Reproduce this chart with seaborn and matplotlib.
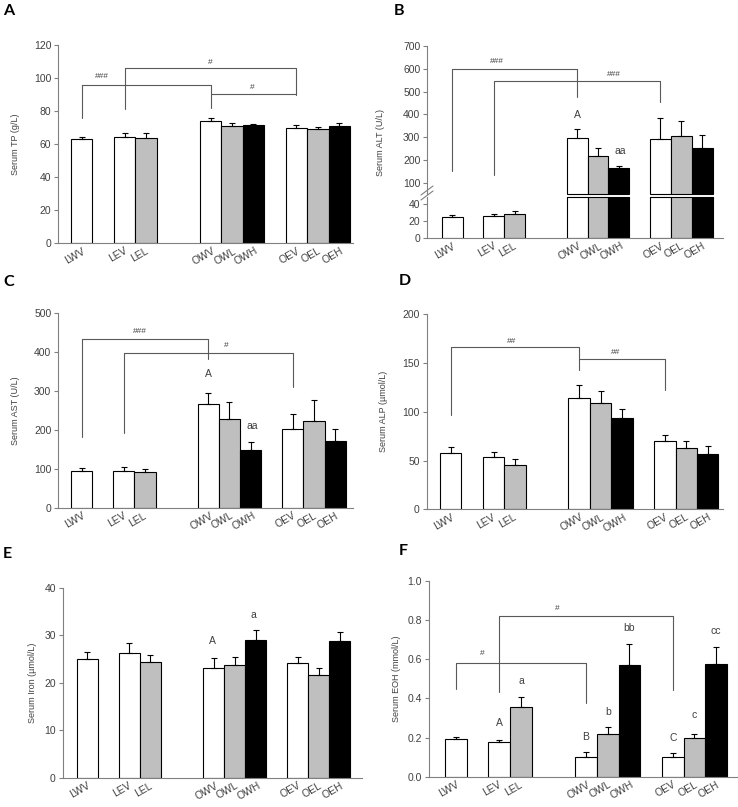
import numpy as np
import pandas as pd
import seaborn as sns
import matplotlib.pyplot as plt
from matplotlib.lines import Line2D
import matplotlib.transforms as mtransforms

# groups along the x axis
groups = ["LWV", "LEV", "LEL", "OWV", "OWL", "OWH", "OEV", "OEL", "OEH"]
doses = ["V", "V", "L", "V", "L", "H", "V", "L", "H"]
slots = [0, 2, 3, 6, 7, 8, 10, 11, 12]

# means and SEM
tp_mean = [63.0, 64.2, 63.7, 74.0, 71.0, 71.6, 69.7, 69.3, 70.7]
tp_sem = [1.2, 2.2, 2.7, 1.8, 2.0, 0.8, 1.6, 0.9, 1.9]
alt_mean = [25.3, 26.5, 28.2, 296, 218, 163, 291, 306, 252]
alt_sem = [2.0, 2.1, 3.2, 38, 33, 9, 95, 65, 59]
ast_mean = [94, 94, 92, 268, 228, 148, 202, 224, 172]
ast_sem = [8, 10, 8, 28, 43, 20, 40, 52, 30]
alp_mean = [58, 54, 45, 114, 109, 94, 70, 62.6, 57]
alp_sem = [5.5, 4.8, 7, 13, 12, 8.5, 6, 7.5, 7.5]
iron_mean = [25.0, 26.2, 24.4, 23.2, 23.7, 29.0, 24.2, 21.7, 28.8]
iron_sem = [1.5, 2.2, 1.5, 1.9, 1.8, 2.0, 1.3, 1.5, 1.9]
eoh_mean = [0.19, 0.175, 0.355, 0.10, 0.218, 0.57, 0.103, 0.197, 0.574]
eoh_sem = [0.015, 0.01, 0.05, 0.025, 0.038, 0.107, 0.02, 0.022, 0.086]

palette = {"V": "white", "L": "#bfbfbf", "H": "black"}
TXT = "#404040"
AX = "#808080"
BR = "#595959"

sns.set_theme(style="ticks")
plt.rcParams["font.family"] = ["Liberation Sans", "DejaVu Sans"]

W, H = 738, 807
fig = plt.figure(figsize=(W / 100, H / 100), dpi=100)


def px_axes(left, top, right, bottom):
    return fig.add_axes([left / W, 1 - bottom / H, (right - left) / W, (bottom - top) / H])


def draw_bars(ax, means, sems):
    df = pd.DataFrame({"slot": slots, "mean": means, "dose": doses})
    sns.barplot(data=df, x="slot", y="mean", hue="dose", palette=palette,
                native_scale=True, dodge=False, width=1, edgecolor="black",
                linewidth=0.8, errorbar=None, legend=False, ax=ax)
    ax.errorbar(slots, means, yerr=[np.zeros(len(sems)), sems], fmt="none",
                ecolor="black", elinewidth=0.8, capsize=2.2, capthick=0.8)


def style(ax, xlim, ylim, yticks, ylabel=None, xlabels=True, fmt="{:g}", pad=4):
    ax.set_xlim(xlim)
    ax.set_ylim(ylim)
    ax.set_yticks(yticks)
    ax.set_yticklabels([fmt.format(t) for t in yticks])
    sns.despine(ax=ax)
    for s in ["left", "bottom"]:
        ax.spines[s].set_color(AX)
        ax.spines[s].set_linewidth(0.8)
    ax.tick_params(axis="y", length=3, width=0.8, color=AX, labelsize=7.5,
                   labelcolor=TXT, pad=2)
    ax.tick_params(axis="x", length=0, labelsize=7.5, labelcolor=TXT, pad=2)
    ax.set_xlabel("")
    ax.set_ylabel(ylabel if ylabel else "", fontsize=6.5, color=TXT, labelpad=pad)
    if xlabels:
        ax.set_xticks(slots)
        ax.set_xticklabels(groups, rotation=30, ha="center")
        shift = mtransforms.ScaledTranslation(-0.07, 0, fig.dpi_scale_trans)
        for lab in ax.get_xticklabels():
            lab.set_transform(lab.get_transform() + shift)
    else:
        ax.set_xticks([])


def bracket(ax, x1, x2, y, y1, y2, text, tx, ty):
    ax.plot([x1, x1, x2, x2], [y1, y, y, y2], color=BR, lw=0.8, clip_on=False)
    ax.text(tx, ty, text, ha="center", va="center", fontsize=6, color=TXT)


def mark(ax, x, y, text):
    ax.text(x, y, text, ha="center", va="center", fontsize=7.5, color=TXT)


# A
ax = px_axes(58.3, 45, 353.3, 243)
draw_bars(ax, tp_mean, tp_sem)
style(ax, (-1.09, 12.65), (0, 120), [0, 20, 40, 60, 80, 100, 120], "Serum TP (g/L)", pad=10)
bracket(ax, 0, 6, 96, 76, 82, "###", 0.93, 101)
bracket(ax, 2, 10, 106, 81, 90, "#", 6, 109.5)
ax.plot([6, 10], [90.3, 90.3], color=BR, lw=0.8)
ax.text(7.95, 94.5, "#", ha="center", va="center", fontsize=6, color=TXT)

# B (broken axis)
axu = px_axes(427.3, 46, 723, 193.8)
axl = px_axes(427.3, 196.6, 723, 238)
draw_bars(axu, alt_mean, alt_sem)
draw_bars(axl, alt_mean, alt_sem)
style(axu, (-1.19, 13.0), (52, 700), [100, 200, 300, 400, 500, 600, 700], xlabels=False)
axu.spines["bottom"].set_visible(False)
style(axl, (-1.19, 13.0), (0, 49), [0, 20, 40])
# bar outlines on both sides of the break
tall = [s for s, m in zip(slots, alt_mean) if m > 52]
for s in tall:
    axu.plot([s - 0.5, s + 0.5], [52, 52], color="black", lw=0.8, clip_on=False)
    axl.plot([s - 0.5, s + 0.5], [49, 49], color="black", lw=0.8, clip_on=False)
fig.text(427.3 / W - 0.063, 1 - 142 / H, "Serum ALT (U/L)", rotation=90, ha="center",
         va="center", fontsize=6.5, color=TXT)
for dy in (0, 5):
    fig.add_artist(Line2D([421 / W, 433 / W], [1 - (200 - dy) / H, 1 - (191 - dy) / H],
                          color=AX, lw=0.8))
bracket(axu, 0, 6, 600, 151, 478, "###", 2.16, 632)
bracket(axu, 2, 10, 545, 134, 456, "###", 7.77, 573)
mark(axu, 6, 397, "A")
mark(axu, 8.06, 239, "aa")

# C
ax = px_axes(58.3, 313.3, 353.3, 507.7)
draw_bars(ax, ast_mean, ast_sem)
style(ax, (-1.1, 12.86), (0, 500), [0, 100, 200, 300, 400, 500], "Serum AST (U/L)", pad=10)
bracket(ax, 0, 6, 433, 183, 382, "###", 2.76, 453)
bracket(ax, 2, 10, 399, 193, 310, "#", 6.87, 417)
mark(ax, 6, 344, "A")
mark(ax, 8.06, 211, "aa")

# D
ax = px_axes(426.7, 314.3, 723.3, 509.3)
draw_bars(ax, alp_mean, alp_sem)
style(ax, (-1.12, 12.73), (0, 200), [0, 50, 100, 150, 200], "Serum ALP (µmol/L)", pad=10)
bracket(ax, 0, 6, 166, 97, 143, "##", 2.85, 172)
bracket(ax, 6, 10, 154, 154, 122, "##", 7.71, 161)

# E
ax = px_axes(62.7, 587.7, 362, 777.7)
draw_bars(ax, iron_mean, iron_sem)
style(ax, (-1.18, 13.07), (0, 40), [0, 10, 20, 30, 40], "Serum Iron (µmol/L)", pad=5)
mark(ax, 5.95, 28.8, "A")
mark(ax, 7.9, 34.2, "a")

# F
ax = px_axes(429, 580.7, 737, 776.7)
draw_bars(ax, eoh_mean, eoh_sem)
style(ax, (-1.24, 12.96), (0, 1.0), [0, 0.2, 0.4, 0.6, 0.8, 1.0], "Serum EOH (mmol/L)",
      fmt="{:.1f}", pad=5)
bracket(ax, 0, 6, 0.582, 0.446, 0.378, "#", 1.2, 0.63)
bracket(ax, 2, 10, 0.818, 0.434, 0.442, "#", 4.69, 0.86)
for x, y, t in [(2, 0.276, "A"), (3, 0.488, "a"), (6, 0.204, "B"), (7, 0.328, "b"),
                (8, 0.757, "bb"), (10, 0.2, "C"), (11, 0.315, "c"), (12, 0.745, "cc")]:
    mark(ax, x, y, t)

# panel letters
for x, y, t in [(3, 4, "A"), (394, 4, "B"), (3, 275, "C"), (399, 274, "D"),
                (3, 547, "E"), (399, 544, "F")]:
    fig.text(x / W, 1 - y / H, t, ha="left", va="top", fontsize=11.5,
             fontweight="bold", family="Lato", color="black")

fig.savefig("out.png", dpi=100)
